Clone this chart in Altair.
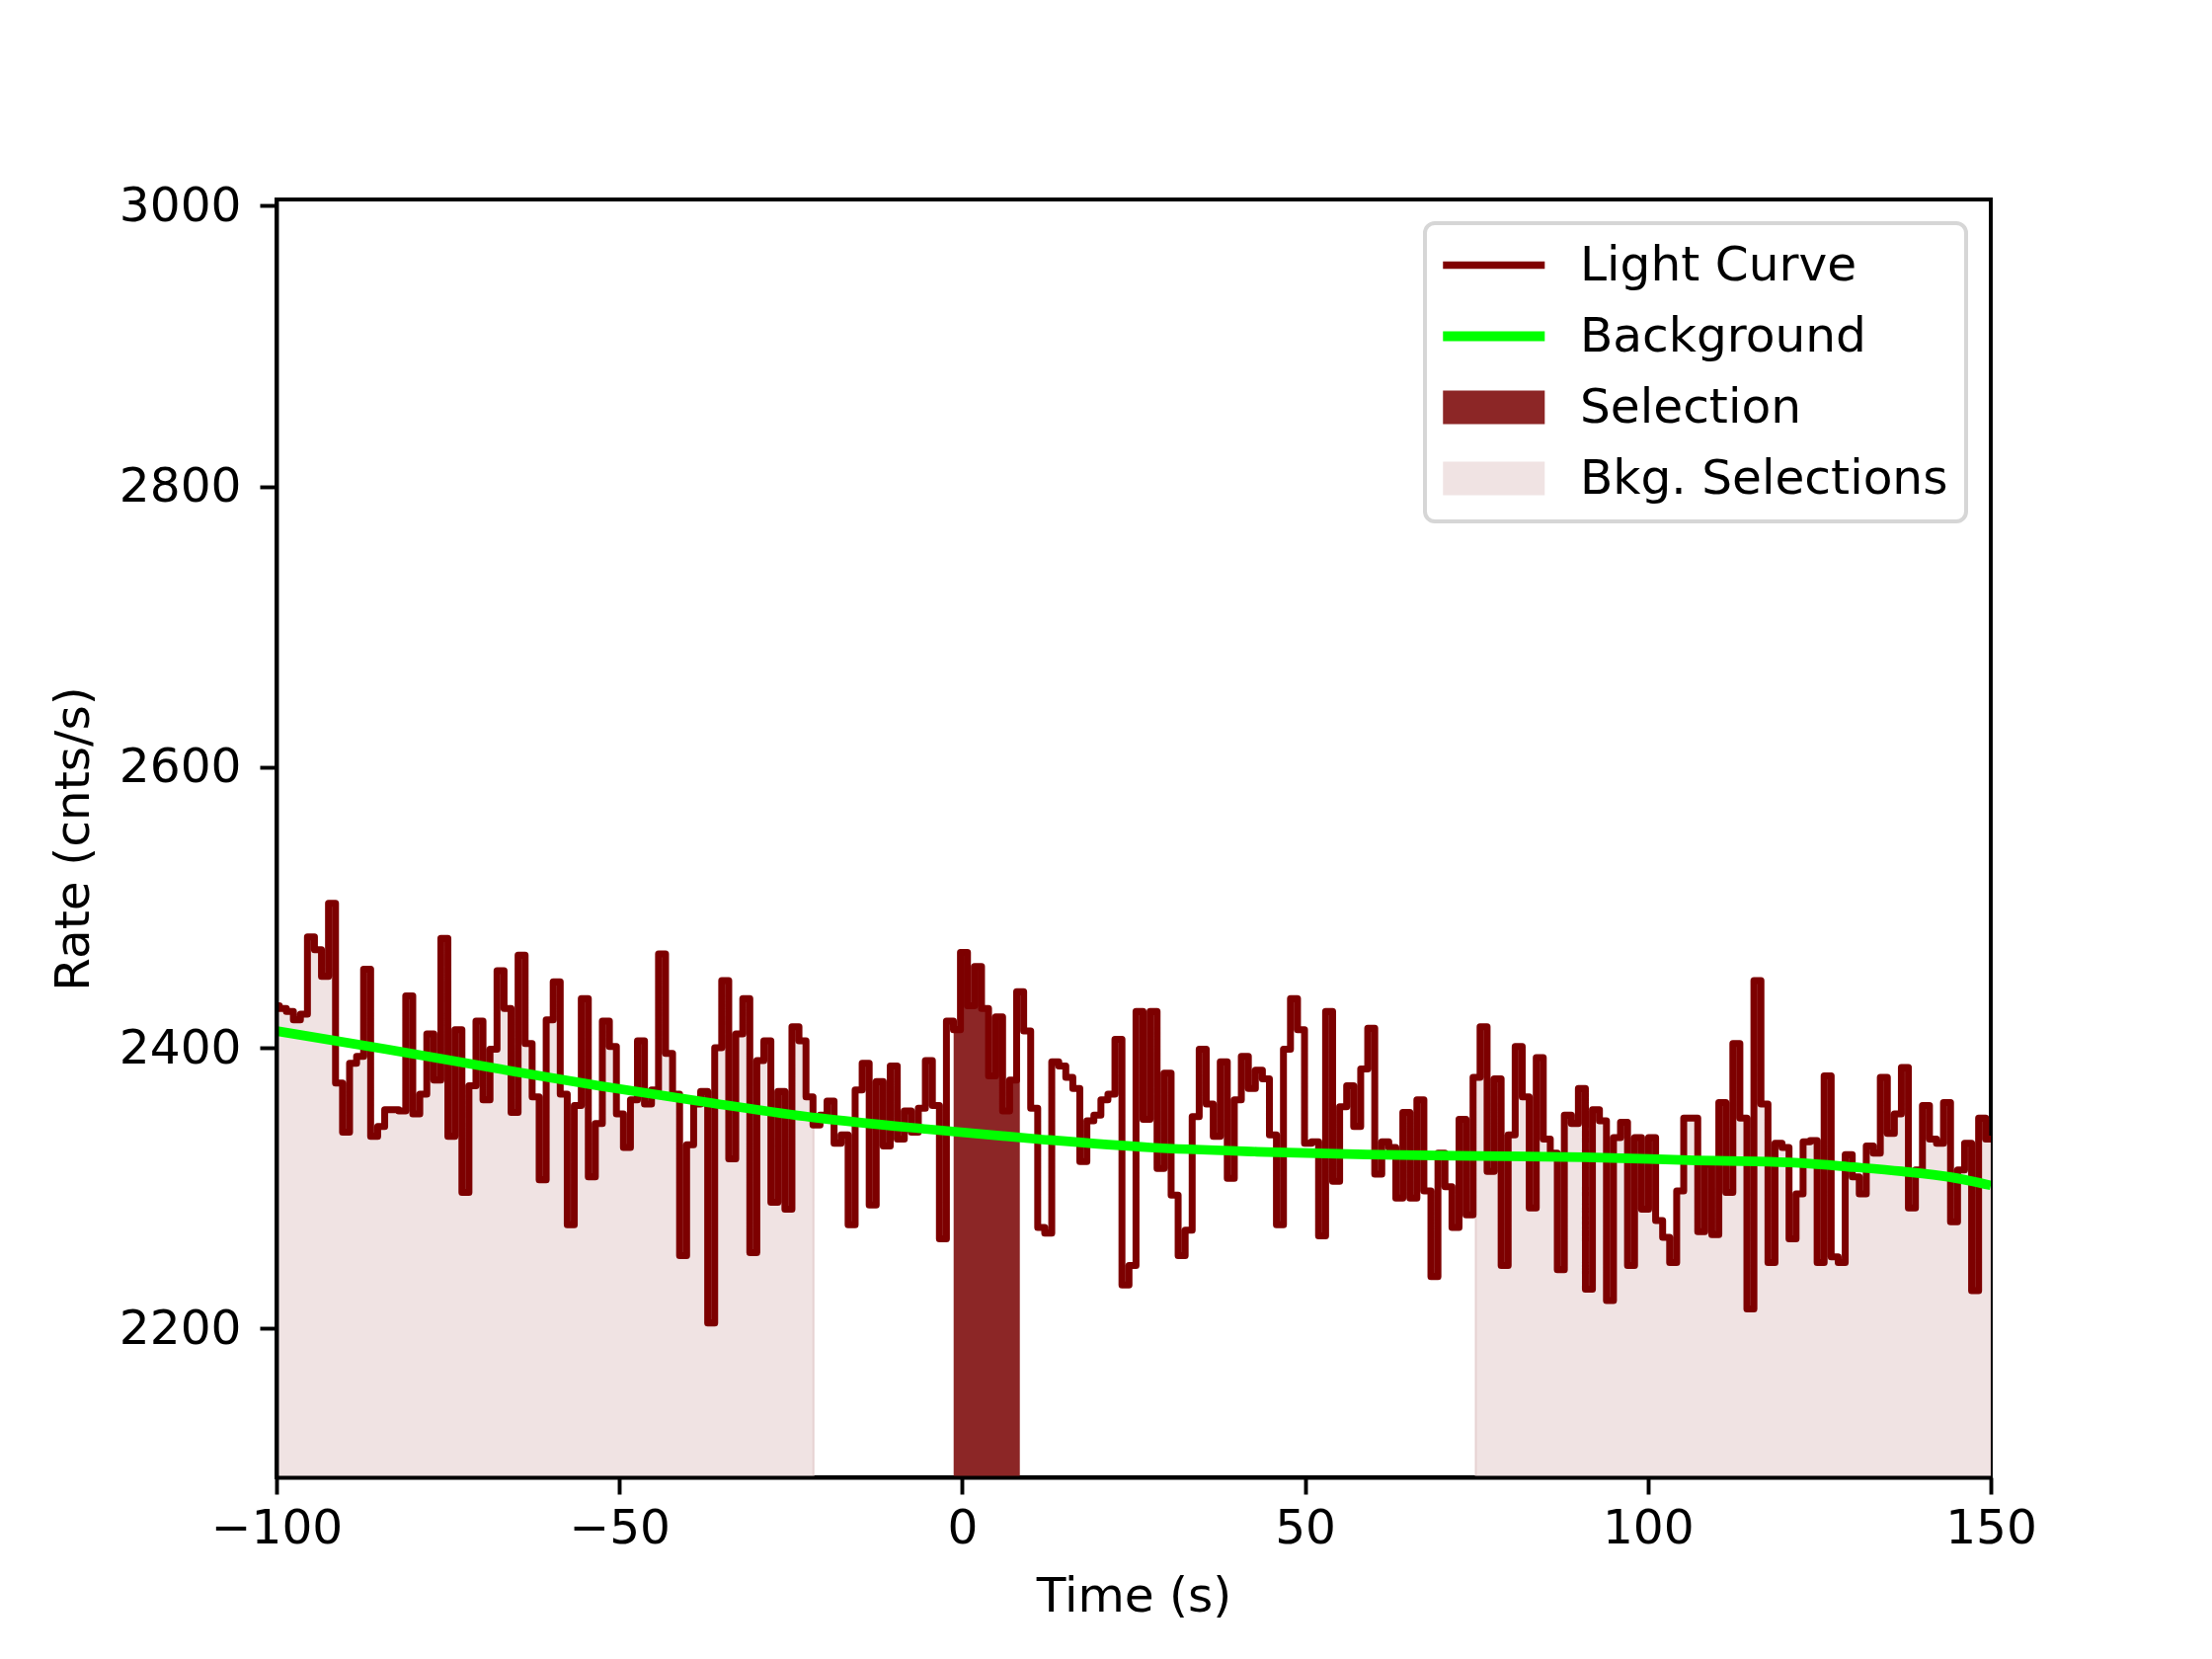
import altair as alt
import pandas as pd

# ---------------- data ----------------
BIN_START = -100.608   # start of the first (partially visible) bin, s
BIN_WIDTH = 1.024      # s

RATE_1 = [2430, 2428, 2426, 2420, 2424, 2479, 2470, 2451, 2503, 2375, 2340, 2389,
          2394, 2456, 2337, 2344, 2356, 2356, 2355, 2437, 2353, 2367, 2410, 2377,
          2478, 2337, 2413, 2297, 2373, 2419, 2363, 2399]
RATE_2 = [2455, 2428, 2354, 2466, 2403, 2365, 2306, 2420, 2447, 2367, 2274, 2359,
          2435, 2308, 2346, 2419, 2401, 2353, 2329, 2363, 2405, 2360, 2370, 2467,
          2396, 2367, 2252, 2331, 2360, 2369]
RATE_3 = [2204, 2400, 2448, 2321, 2410, 2435, 2254, 2391, 2405, 2290, 2369, 2285,
          2415, 2405, 2365, 2345, 2352, 2362, 2332, 2338, 2274, 2370, 2389, 2288,
          2376, 2330, 2387, 2335, 2355, 2340]
RATE_4 = [2357, 2391, 2359, 2264, 2419, 2413, 2468, 2430, 2458, 2428, 2380, 2422,
          2355, 2377, 2440, 2412, 2357, 2272, 2268, 2390, 2387, 2379, 2371, 2319,
          2348, 2352, 2363, 2367, 2406, 2231]
RATE_5 = [2245, 2426, 2349, 2426, 2314, 2382, 2295, 2252, 2270, 2351, 2399, 2360,
          2337, 2390, 2307, 2363, 2394, 2371, 2384, 2378, 2338, 2274, 2399, 2435,
          2413, 2332, 2333, 2266, 2426, 2305, 2358, 2373]
RATE_6 = [2344, 2385, 2414, 2310, 2333, 2329, 2293, 2354, 2293, 2363, 2298, 2237,
          2325, 2301, 2272, 2349, 2281, 2379, 2415, 2312, 2378, 2245, 2338, 2401,
          2365, 2286, 2393, 2335, 2325]
RATE_7 = [2242, 2352, 2346, 2371, 2228, 2356, 2348, 2220, 2336, 2347, 2245, 2336,
          2285, 2336, 2277, 2265, 2247, 2298, 2350, 2350, 2269, 2317, 2267, 2361,
          2297, 2403, 2350, 2214, 2448, 2360, 2247]
RATE_8 = [2332, 2329, 2264, 2296, 2333, 2334, 2247, 2380, 2251, 2247, 2324, 2308,
          2296, 2330, 2325, 2379, 2339, 2353, 2386, 2286, 2313, 2359, 2335, 2332,
          2361, 2276, 2313, 2332, 2227, 2350, 2335]

BKG_T = [-100, -84, -68.7, -53, -37, -21, -5, 11, 27.4, 43, 59, 75, 90.7, 106, 122, 130, 137, 144, 150]
BKG_V = [2412, 2399, 2386, 2373, 2361, 2350, 2342, 2335, 2329, 2326, 2324, 2323, 2322, 2320, 2318, 2315, 2312, 2308, 2302]

SEL_RANGE = (-1.25, 8.4)
BKG_RANGES = [(-100.0, -21.7), (74.9, 150.0)]

X_DOMAIN = [-100, 150]
Y_DOMAIN = [2094, 3004.5]
X_TICKS = [-100, -50, 0, 50, 100, 150]
Y_TICKS = [2200, 2400, 2600, 2800, 3000]

LEGEND_LABELS = ["Light Curve", "Background", "Selection", "Bkg. Selections"]
LEGEND_COLORS = ["#800000", "#00ff00", "#8c2626", "#f0e3e3"]
LEGEND_STROKES = ["#800000", "#00ff00", "#8c2626", "#e8d6d6"]
LEGEND_SHAPES = ["M-1,-0.15H3.25V0.15H-1Z", "M-1,-0.21H3.25V0.21H-1Z",
                 "M-1,-0.7H3.25V0.7H-1Z", "M-1,-0.7H3.25V0.7H-1Z"]

FONT = "DejaVu Sans"
FS = 48.6

# ---------------- tables ----------------
RATE = RATE_1 + RATE_2 + RATE_3 + RATE_4 + RATE_5 + RATE_6 + RATE_7 + RATE_8
starts = [BIN_START + i * BIN_WIDTH for i in range(len(RATE))]


def rate_at(t):
    i = int((t - BIN_START) // BIN_WIDTH)
    i = max(0, min(len(RATE) - 1, i))
    return RATE[i]


lc_rows = [{"t": s, "rate": r} for s, r in zip(starts, RATE)]
lc_rows.append({"t": starts[-1] + BIN_WIDTH, "rate": RATE[-1]})
lc_df = pd.DataFrame(lc_rows)


def region_rows(a, b, name):
    rows = [{"t": a, "rate": rate_at(a), "floor": Y_DOMAIN[0], "region": name}]
    rows += [{"t": s, "rate": r, "floor": Y_DOMAIN[0], "region": name}
             for s, r in zip(starts, RATE) if a < s < b]
    rows.append({"t": b, "rate": rate_at(b), "floor": Y_DOMAIN[0], "region": name})
    return rows


bkg_rows = []
for k, (a, b) in enumerate(BKG_RANGES):
    bkg_rows += region_rows(a, b, "bkg%d" % k)
bkg_df = pd.DataFrame(bkg_rows)
sel_df = pd.DataFrame(region_rows(SEL_RANGE[0], SEL_RANGE[1], "sel"))
bg_df = pd.DataFrame({"t": BKG_T, "rate": BKG_V})
leg_df = pd.DataFrame({"t": [0] * 4, "rate": [0] * 4, "series": LEGEND_LABELS})

# ---------------- encodings ----------------
xs = alt.Scale(domain=X_DOMAIN, nice=False, zero=False)
ys = alt.Scale(domain=Y_DOMAIN, nice=False, zero=False)

common_axis = dict(grid=False, domain=True, domainColor="black", domainWidth=3.9,
                   ticks=True, tickColor="black", tickWidth=3.9, tickSize=17,
                   labelFont=FONT, labelFontSize=FS, labelColor="black",
                   labelFlush=False,
                   titleFont=FONT, titleFontSize=FS, titleFontWeight="normal",
                   titleColor="black", zindex=1)

x_axis = alt.Axis(values=X_TICKS, labelExpr="replace(format(datum.value, 'd'), '-', '\u2212')",
                  labelPadding=11, titlePadding=22, **common_axis)
y_axis = alt.Axis(values=Y_TICKS, format="d", labelPadding=19, titlePadding=21, **common_axis)


def X():
    return alt.X("t:Q", scale=xs, axis=x_axis, title="Time (s)")


def Y():
    return alt.Y("rate:Q", scale=ys, axis=y_axis, title="Rate (cnts/s)")


bkg_layer = alt.Chart(bkg_df).mark_area(
    interpolate="step-after", color="#f0e3e3", stroke="#e6d2d2", strokeWidth=2, clip=True
).encode(x=X(), y=Y(), y2=alt.Y2("floor:Q"), detail="region:N")

sel_layer = alt.Chart(sel_df).mark_area(
    interpolate="step-after", color="#8c2626", clip=True
).encode(x=X(), y=Y(), y2=alt.Y2("floor:Q"))

lc_layer = alt.Chart(lc_df).mark_line(
    interpolate="step-after", color="#7d0000", strokeWidth=7, strokeJoin="round", clip=True
).encode(x=X(), y=Y())

bg_layer = alt.Chart(bg_df).mark_line(
    interpolate="monotone", color="#00ff00", strokeWidth=9.7, clip=True
).encode(x=X(), y=Y())

legend = alt.Legend(title=None, orient="none", legendX=1163, legendY=24,
                    symbolSize=2352, symbolStrokeWidth=0, symbolOpacity=1,
                    labelFont=FONT, labelFontSize=FS, labelColor="black",
                    labelOffset=90, labelLimit=800, rowPadding=22, padding=18,
                    fillColor="white", strokeColor="#d6d6d6", cornerRadius=10)

leg_layer = alt.Chart(leg_df).mark_point(filled=True, opacity=1, size=2352, clip=True).encode(
    x=X(), y=Y(),
    color=alt.Color("series:N", scale=alt.Scale(domain=LEGEND_LABELS, range=LEGEND_COLORS),
                    legend=legend),
    shape=alt.Shape("series:N", scale=alt.Scale(domain=LEGEND_LABELS, range=LEGEND_SHAPES),
                    legend=legend),
)

chart = alt.layer(bkg_layer, sel_layer, lc_layer, bg_layer, leg_layer).properties(
    width=1736, height=1294,
    padding={"left": 280, "top": 202, "right": 224, "bottom": 184},
    autosize=alt.AutoSizeParams(type="none"),
    background="white",
).configure_view(stroke="black", strokeWidth=3.9).configure_legend(strokeWidth=4)

chart.save("out.html", embed_options={"renderer": "svg", "actions": False})
